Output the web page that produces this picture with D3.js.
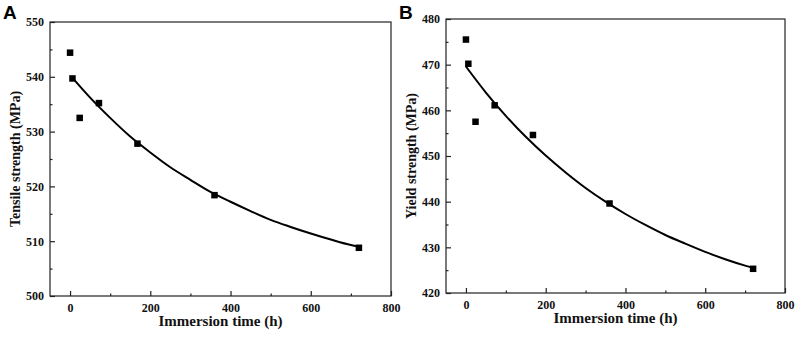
<!DOCTYPE html>
<html>
<head>
<meta charset="utf-8">
<script src="https://cdn.jsdelivr.net/npm/d3@7"></script>
<style>
  html, body { margin: 0; padding: 0; background: #fff; }
  svg { display: block; }
</style>
</head>
<body>
<svg id="chart" width="796" height="338"></svg>
<script>
// ---- data ----
const timeHours = [0, 6, 24, 72, 168, 360, 720];
const tensileStrength = [544.4, 539.7, 532.5, 535.2, 527.8, 518.4, 508.8];
const yieldStrength = [475.5, 470.2, 457.5, 461.1, 454.6, 439.6, 425.3];

// fitted curves
const fitTimesA = [6, 50, 100, 150, 200, 250, 300, 350, 400, 450, 500, 550, 600, 650, 700, 720];
const fitTensile = [539.8, 536.2, 532.5, 529.1, 526.2, 523.5, 521.2, 519.0, 517.2, 515.5, 513.9, 512.6, 511.4, 510.3, 509.3, 509.0];
const fitTimesB = [0, 50, 100, 150, 200, 250, 300, 350, 400, 450, 500, 550, 600, 650, 700, 720];
const fitYield = [469.6, 463.9, 458.8, 454.2, 450.1, 446.4, 443.0, 440.0, 437.3, 434.9, 432.7, 430.8, 429.0, 427.4, 426.0, 425.5];

const xTicks = [0, 200, 400, 600, 800];
const xMinorTicks = [100, 300, 500, 700];
const yTicksA = [500, 510, 520, 530, 540, 550];
const yMinorA = [505, 515, 525, 535, 545];
const yTicksB = [420, 430, 440, 450, 460, 470, 480];
const yMinorB = [425, 435, 445, 455, 465, 475];

const xLabel = "Immersion time (h)";

const panels = [
  { letter: "A", lx: 3, ly: 19, left: 50, right: 391, top: 22, bottom: 296,
    yDomain: [500, 550], yTicks: yTicksA, yMinor: yMinorA,
    yLabel: "Tensile strength (MPa)", ylx: 15,
    values: tensileStrength, fitT: fitTimesA, fitV: fitTensile },
  { letter: "B", lx: 399, ly: 19, left: 446, right: 785, top: 19, bottom: 293,
    yDomain: [420, 480], yTicks: yTicksB, yMinor: yMinorB,
    yLabel: "Yield strength (MPa)", ylx: 411,
    values: yieldStrength, fitT: fitTimesB, fitV: fitYield }
];

const svg = d3.select("#chart");
const serif = "'Liberation Serif', 'Times New Roman', serif";

panels.forEach(p => {
  const x = d3.scaleLinear().domain([-50, 800]).range([p.left, p.right]);
  const y = d3.scaleLinear().domain(p.yDomain).range([p.bottom, p.top]);
  const g = svg.append("g");

  // frame
  g.append("rect")
    .attr("x", p.left).attr("y", p.top)
    .attr("width", p.right - p.left).attr("height", p.bottom - p.top)
    .attr("fill", "none").attr("stroke", "#222").attr("stroke-width", 1.2);

  // x axis (ticks inward)
  const xAxis = d3.axisBottom(x).tickValues(xTicks).tickSize(-5).tickPadding(7)
    .tickFormat(d3.format("d"));
  const xg = g.append("g").attr("transform", `translate(0,${p.bottom})`).call(xAxis);
  xg.select(".domain").remove();
  const xmg = g.append("g").attr("transform", `translate(0,${p.bottom})`)
    .call(d3.axisBottom(x).tickValues(xMinorTicks).tickSize(-2.5).tickFormat(""));
  xmg.select(".domain").remove();

  // y axis (ticks inward)
  const yAxis = d3.axisLeft(y).tickValues(p.yTicks).tickSize(-5).tickPadding(6)
    .tickFormat(d3.format("d"));
  const yg = g.append("g").attr("transform", `translate(${p.left},0)`).call(yAxis);
  yg.select(".domain").remove();
  const ymg = g.append("g").attr("transform", `translate(${p.left},0)`)
    .call(d3.axisLeft(y).tickValues(p.yMinor).tickSize(-2.5).tickFormat(""));
  ymg.select(".domain").remove();

  [xg, xmg, yg, ymg].forEach(a => {
    a.selectAll("line").attr("stroke", "#222").attr("stroke-width", 1.2);
    a.selectAll("text").attr("fill", "#111")
      .style("font-family", serif).style("font-weight", "bold").style("font-size", "12px");
  });

  // fitted curve
  const line = d3.line().x((d, i) => x(p.fitT[i])).y(d => y(d)).curve(d3.curveMonotoneX);
  g.append("path").datum(p.fitV)
    .attr("d", line).attr("fill", "none").attr("stroke", "#000").attr("stroke-width", 2);

  // markers
  const s = 6.5;
  g.selectAll("rect.pt").data(p.values).enter().append("rect")
    .attr("class", "pt")
    .attr("x", (d, i) => x(timeHours[i]) - s / 2)
    .attr("y", d => y(d) - s / 2)
    .attr("width", s).attr("height", s).attr("fill", "#000");

  // axis titles
  g.append("text")
    .attr("x", (p.left + p.right) / 2).attr("y", p.bottom + 30)
    .attr("text-anchor", "middle")
    .style("font-family", serif).style("font-weight", "bold").style("font-size", "15px")
    .attr("fill", "#111").text(xLabel);
  g.append("text")
    .attr("transform", `translate(${p.ylx},${(p.top + p.bottom) / 2}) rotate(-90)`)
    .attr("text-anchor", "middle").attr("dy", "0.35em")
    .style("font-family", serif).style("font-weight", "bold").style("font-size", "14px")
    .attr("fill", "#111").text(p.yLabel);

  // panel letter
  g.append("text")
    .attr("x", p.lx).attr("y", p.ly)
    .style("font-family", "'Liberation Sans', Arial, sans-serif").style("font-weight", "bold")
    .style("font-size", "19px").attr("fill", "#000").text(p.letter);
});
</script>
</body>
</html>
